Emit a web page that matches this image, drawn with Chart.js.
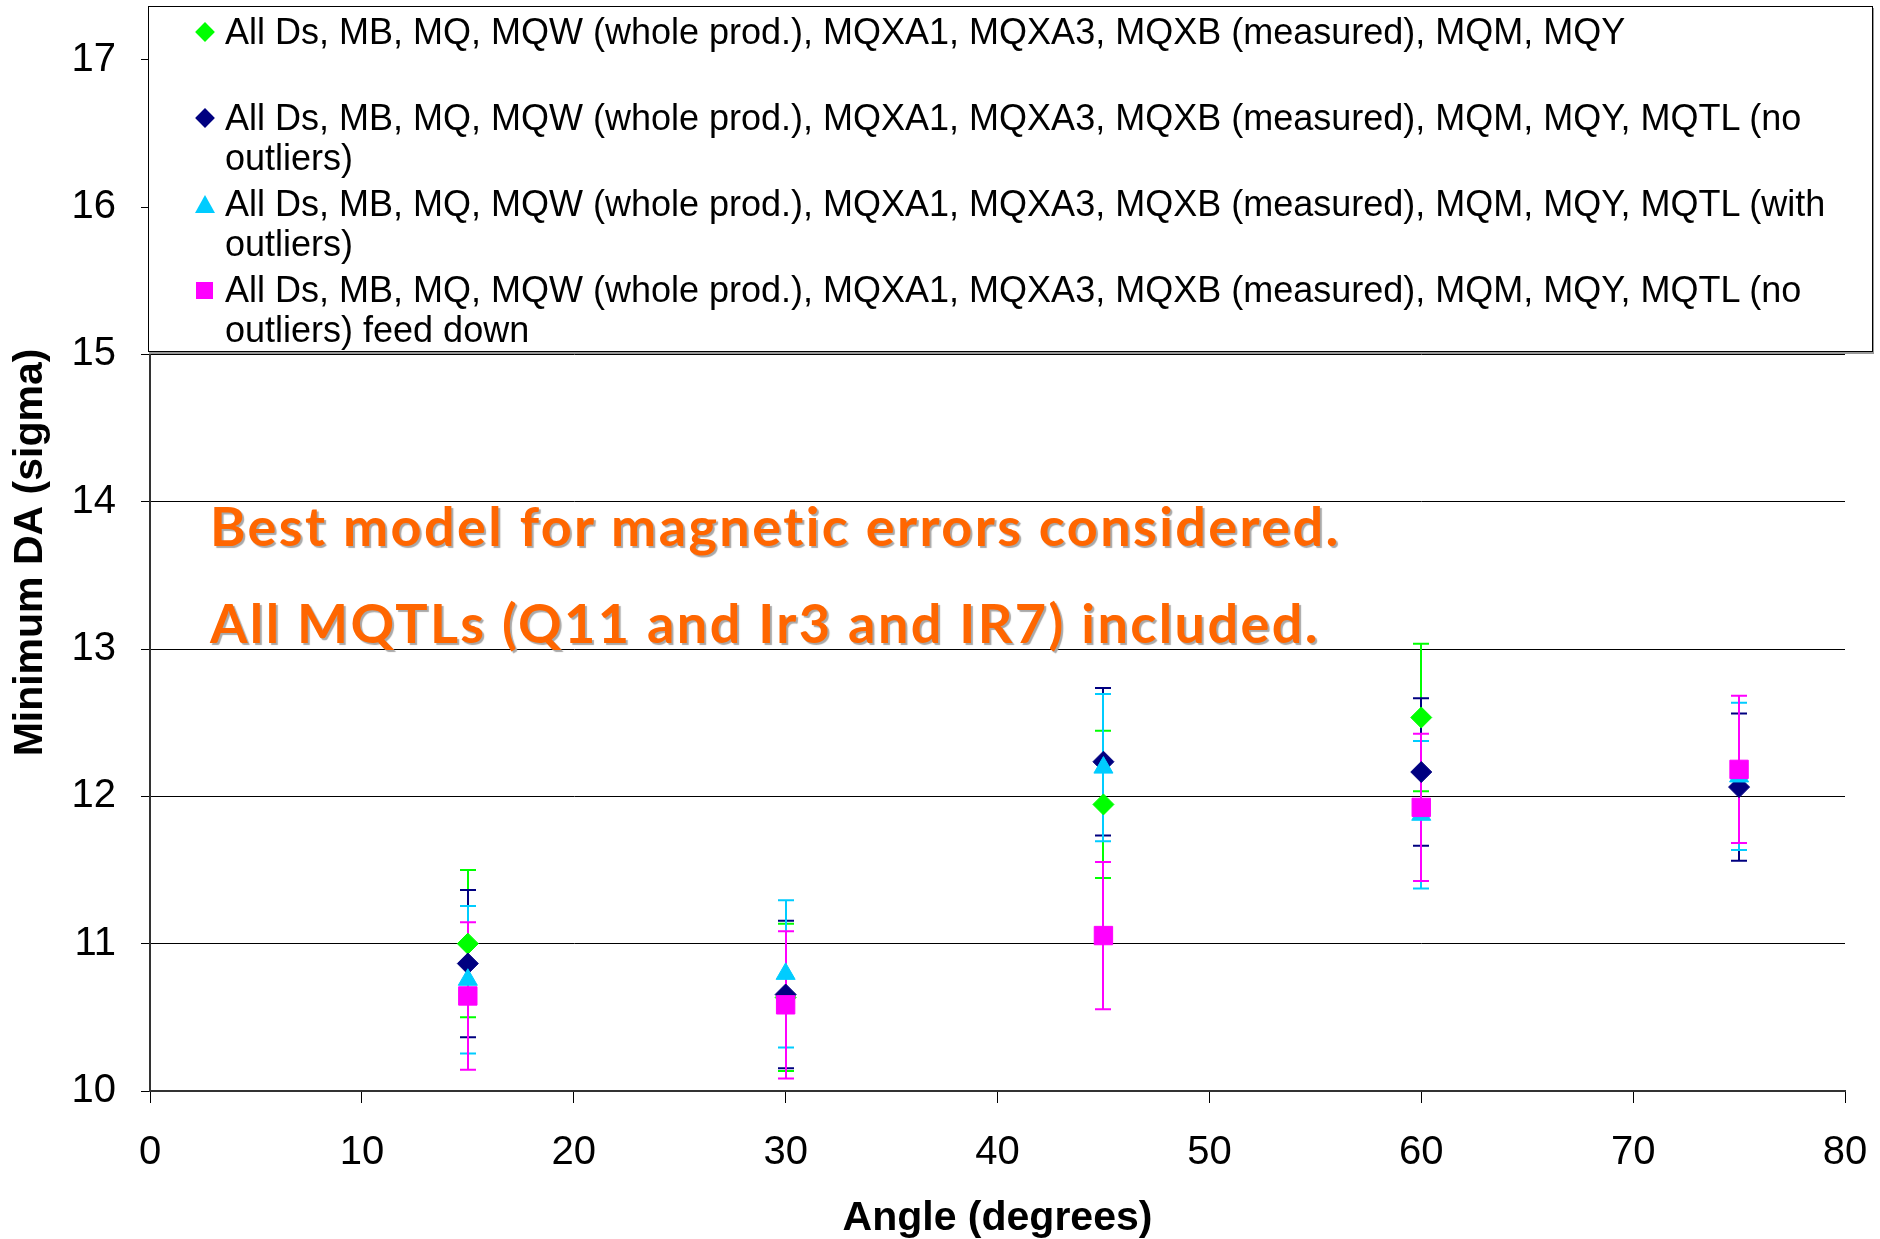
<!DOCTYPE html>
<html>
<head>
<meta charset="utf-8">
<title>Minimum DA vs angle</title>
<script src="https://cdn.jsdelivr.net/npm/chart.js"></script>
<style>
  body { margin: 0; background: #fff; }
  #wrap { position: relative; width: 1880px; height: 1239px; }
  #legend {
    position: absolute; left: 148px; top: 6px; width: 1723px; height: 344px;
    background: #fff; border: 1px solid #000; box-shadow: 1px 2px 0 #999;
    font-family: "Liberation Sans", Arial, sans-serif; font-size: 36px; line-height: 40px; color: #000;
  }
  .row { position: absolute; left: 0; right: 0; height: 86px; }
  .txt { position: absolute; left: 76px; top: 0; width: 1640px; }
  .mark { position: absolute; }
  #note {
    position: absolute; left: 210px; top: 477px; color: #ff6600;
    font-family: Lato, "Open Sans", sans-serif; font-weight: bold; font-size: 54px; line-height: 97px;
    letter-spacing: 2.4px; text-shadow: 2px 2px 1px #a8a8a8; white-space: nowrap;
  }
</style>
</head>
<body>
<div id="wrap">
  <canvas id="myChart" width="1880" height="1239"></canvas>
  <div id="legend"></div>
  <div id="note">Best model for magnetic errors considered.<br>All MQTLs (Q11 and Ir3 and IR7) included.</div>
</div>
<script>
// angles (degrees)
const angles = [15, 30, 45, 60, 75];

// minimum DA (sigma) per series, error bars are +/- values
const wholeProd = [11.0, 10.635, 11.945, 12.535];
const wholeProdErr = [0.5, 0.5, 0.5, 0.5];
const noOutliers = [10.865, 10.655, 12.235, 12.165, 12.063];
const noOutliersErr = [0.5, 0.5, 0.5, 0.5, 0.5];
const withOutliers = [10.755, 10.795, 12.195, 11.875, 12.135];
const withOutliersErr = [0.5, 0.5, 0.5, 0.5, 0.5];
const feedDown = [10.645, 10.585, 11.055, 11.925, 12.183];
const feedDownErr = [0.5, 0.5, 0.5, 0.5, 0.5];

const seriesNames = [
    'All Ds, MB, MQ, MQW (whole prod.), MQXA1, MQXA3, MQXB (measured), MQM, MQY',
    'All Ds, MB, MQ, MQW (whole prod.), MQXA1, MQXA3, MQXB (measured), MQM, MQY, MQTL (no outliers)',
    'All Ds, MB, MQ, MQW (whole prod.), MQXA1, MQXA3, MQXB (measured), MQM, MQY, MQTL (with outliers)',
    'All Ds, MB, MQ, MQW (whole prod.), MQXA1, MQXA3, MQXB (measured), MQM, MQY, MQTL (no outliers) feed down'
];

const yTicks = [10, 11, 12, 13, 14, 15, 16, 17];

function toPoints(vals) {
    return vals.map((v, i) => ({ x: angles[i], y: v }));
}

const colors = ['#00ff00', '#000080', '#00ccff', '#ff00ff'];
const shapes = ['rectRot', 'rectRot', 'triangle', 'rect'];
const radii = [10.5, 10.5, 11, 13];
const values = [wholeProd, noOutliers, withOutliers, feedDown];
const errors = [wholeProdErr, noOutliersErr, withOutliersErr, feedDownErr];

const datasets = values.map((vals, k) => ({
    label: seriesNames[k],
    data: toPoints(vals),
    errs: errors[k],
    pointStyle: shapes[k],
    pointRadius: radii[k],
    pointHoverRadius: radii[k],
    backgroundColor: colors[k],
    borderColor: colors[k],
    borderWidth: 1,
    showLine: false,
    order: 3 - k   // later series drawn on top
}));

// vertical error bars, drawn below the markers
const errorBars = {
    id: 'errorBars',
    beforeDatasetsDraw(chart) {
        const ctx = chart.ctx;
        const xs = chart.scales.x, ys = chart.scales.y;
        ctx.save();
        chart.data.datasets.forEach((ds) => {
            ctx.strokeStyle = ds.borderColor;
            ctx.lineWidth = 2;
            ds.data.forEach((p, i) => {
                const e = ds.errs[i];
                const px = Math.round(xs.getPixelForValue(p.x));
                const top = ys.getPixelForValue(p.y + e);
                const bot = ys.getPixelForValue(p.y - e);
                ctx.beginPath();
                ctx.moveTo(px, top); ctx.lineTo(px, bot);
                ctx.moveTo(px - 8, top); ctx.lineTo(px + 8, top);
                ctx.moveTo(px - 8, bot); ctx.lineTo(px + 8, bot);
                ctx.stroke();
            });
        });
        ctx.restore();
    }
};

Chart.defaults.font.family = '"Liberation Sans", Arial, sans-serif';
Chart.defaults.color = '#000';

const ctx = document.getElementById('myChart').getContext('2d');
const chart = new Chart(ctx, {
    type: 'scatter',
    data: { datasets: datasets },
    plugins: [errorBars],
    options: {
        responsive: false,
        animation: false,
        layout: { padding: { top: 3, right: 35, left: 0, bottom: 0 } },
        plugins: {
            legend: { display: false },
            tooltip: { enabled: false }
        },
        scales: {
            x: {
                type: 'linear',
                min: 0,
                max: 80,
                ticks: { stepSize: 10, padding: 26, font: { size: 40 }, maxRotation: 0 },
                grid: { drawOnChartArea: false, color: '#000', tickLength: 12, tickWidth: 1 },
                border: { color: '#333', width: 2 },
                title: {
                    display: true,
                    text: 'Angle (degrees)',
                    font: { size: 41, weight: 'bold', lineHeight: 1 },
                    padding: { top: 0, bottom: 0 }
                },
                afterFit(scale) {
                    scale.height = 148;
                    scale.paddingLeft = 0;
                    scale.paddingRight = 0;
                }
            },
            y: {
                type: 'linear',
                min: 10,
                max: 17.31,
                ticks: { padding: 25, font: { size: 40 } },
                afterBuildTicks(scale) { scale.ticks = yTicks.map(v => ({ value: v })); },
                grid: { color: '#000', lineWidth: 1, tickLength: 9 },
                border: { color: '#333', width: 2 },
                title: {
                    display: true,
                    text: 'Minimum DA (sigma)',
                    font: { size: 41, weight: 'bold', lineHeight: 1 },
                    padding: { top: 10, bottom: 0 }
                },
                afterFit(scale) {
                    scale.width = 150;
                    scale.paddingTop = 0;
                    scale.paddingBottom = 0;
                }
            }
        }
    }
});

// html legend, so long labels can wrap like the original
const legendEl = document.getElementById('legend');
chart.data.datasets.forEach((ds, k) => {
    const row = document.createElement('div');
    row.className = 'row';
    row.style.top = (5 + 86 * k) + 'px';
    const m = document.createElement('div');
    m.className = 'mark';
    const c = ds.backgroundColor;
    if (ds.pointStyle === 'rectRot') {
        Object.assign(m.style, { left: '49px', top: '13px', width: '14px', height: '14px', background: c, transform: 'rotate(45deg)' });
    } else if (ds.pointStyle === 'triangle') {
        Object.assign(m.style, { left: '46px', top: '11px', width: '0', height: '0',
            borderLeft: '10px solid transparent', borderRight: '10px solid transparent', borderBottom: '18px solid ' + c });
    } else {
        Object.assign(m.style, { left: '47px', top: '12px', width: '17px', height: '17px', background: c });
    }
    const t = document.createElement('div');
    t.className = 'txt';
    t.textContent = ds.label;
    row.appendChild(m);
    row.appendChild(t);
    legendEl.appendChild(row);
});
</script>
</body>
</html>
